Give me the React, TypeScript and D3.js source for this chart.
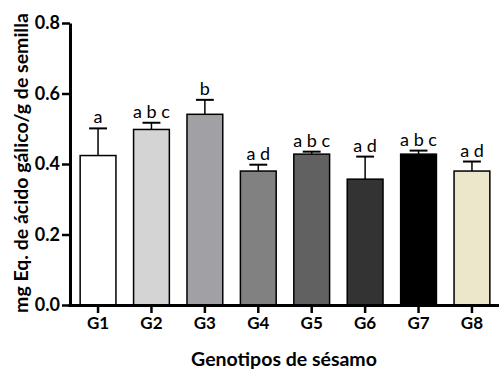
import React, { useEffect, useRef } from 'react';
import * as d3 from 'd3';

const genotipos = ['G1', 'G2', 'G3', 'G4', 'G5', 'G6', 'G7', 'G8'];
const medias = [0.424, 0.498, 0.541, 0.380, 0.428, 0.357, 0.428, 0.380];
const errores = [0.077, 0.019, 0.041, 0.018, 0.007, 0.064, 0.010, 0.027];
const letras = ['a', 'a b c', 'b', 'a d', 'a b c', 'a d', 'a b c', 'a d'];
const colores = ['#ffffff', '#d4d4d4', '#a1a1a5', '#818181', '#616161', '#333333', '#000000', '#ece6cb'];
const yTicks = [0, 0.2, 0.4, 0.6, 0.8];

const App = () => {
  const ref = useRef<SVGSVGElement>(null);

  useEffect(() => {
    const width = 499;
    const height = 370;
    const svg = d3.select(ref.current);
    svg.selectAll('*').remove();

    const font = 'Lato, "Open Sans", sans-serif';

    const x = d3.scaleBand()
      .domain(genotipos)
      .range([70, 500])
      .paddingInner(0.33)
      .paddingOuter(0.19);

    const y = d3.scaleLinear()
      .domain([0, 0.8])
      .range([305, 23]);

    const g = svg.append('g');

    // barras
    g.selectAll('rect.bar')
      .data(genotipos)
      .enter()
      .append('rect')
      .attr('x', d => x(d)!)
      .attr('y', (d, i) => y(medias[i]))
      .attr('width', x.bandwidth())
      .attr('height', (d, i) => y(0) - y(medias[i]))
      .attr('fill', (d, i) => colores[i])
      .attr('stroke', '#000')
      .attr('stroke-width', 1.5);

    // barras de error (solo hacia arriba) y letras
    genotipos.forEach((d, i) => {
      const cx = x(d)! + x.bandwidth() / 2;
      const top = y(medias[i] + errores[i]);
      g.append('line')
        .attr('x1', cx).attr('x2', cx)
        .attr('y1', y(medias[i])).attr('y2', top)
        .attr('stroke', '#000').attr('stroke-width', 1.5);
      g.append('line')
        .attr('x1', cx - x.bandwidth() / 4).attr('x2', cx + x.bandwidth() / 4)
        .attr('y1', top).attr('y2', top)
        .attr('stroke', '#000').attr('stroke-width', 2);
      g.append('text')
        .attr('x', cx)
        .attr('y', top - 5)
        .attr('text-anchor', 'middle')
        .style('font-family', font)
        .style('font-size', '18px')
        .text(letras[i]);
    });

    // eje y
    const yAxis = g.append('g')
      .attr('transform', 'translate(70,0)')
      .call(d3.axisLeft(y).tickValues(yTicks).tickFormat(d3.format('.1f')).tickSize(8).tickSizeOuter(0));
    yAxis.select('.domain').attr('stroke-width', 3);
    yAxis.selectAll('.tick line').attr('stroke-width', 2.5);
    yAxis.selectAll('.tick text')
      .attr('x', -10)
      .style('font-family', font)
      .style('font-size', '18px')
      .style('font-weight', 'bold')
      .attr('fill', '#000');

    // eje x
    const xAxis = g.append('g')
      .attr('transform', 'translate(0,305)')
      .call(d3.axisBottom(x).tickSize(8).tickSizeOuter(0));
    xAxis.select('.domain').attr('stroke-width', 3).attr('d', 'M68.5,0.5H499');
    xAxis.selectAll('.tick line').attr('stroke-width', 2.5);
    xAxis.selectAll('.tick text')
      .attr('y', 12)
      .style('font-family', font)
      .style('font-size', '17px')
      .style('font-weight', 'bold')
      .attr('fill', '#000');

    // titulos
    svg.append('text')
      .attr('transform', 'translate(28,163) rotate(-90)')
      .attr('text-anchor', 'middle')
      .style('font-family', font)
      .style('font-size', '19.5px')
      .style('font-weight', 'bold')
      .text('mg Eq. de ácido gálico/g de semilla');

    svg.append('text')
      .attr('x', 284)
      .attr('y', 366)
      .attr('text-anchor', 'middle')
      .style('font-family', font)
      .style('font-size', '19.5px')
      .style('font-weight', 'bold')
      .text('Genotipos de sésamo');

    svg.attr('width', width).attr('height', height);
  }, []);

  return (
    <svg ref={ref} style={{ position: 'absolute', left: 0, top: 0, background: '#fff' }} />
  );
};

export default App;
